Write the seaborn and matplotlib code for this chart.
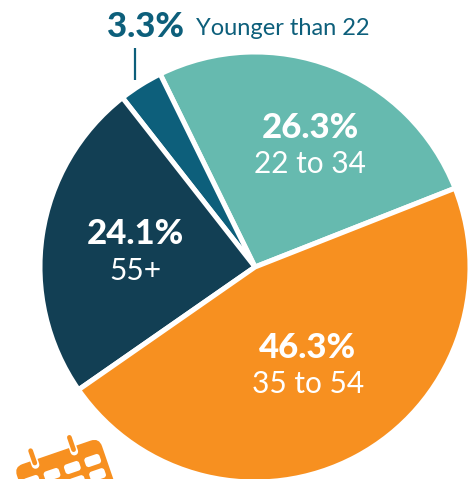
import matplotlib
matplotlib.use("Agg")
import matplotlib.pyplot as plt
from matplotlib.patches import FancyBboxPatch
from matplotlib.transforms import Affine2D
import seaborn as sns

categories = ["22 to 34", "Younger than 22", "55+", "35 to 54"]
shares = [26.3, 3.3, 24.1, 46.3]
share_labels = ["26.3%", "3.3%", "24.1%", "46.3%"]
colors = ["#66BAAF", "#0D5F7B", "#123F54", "#F79020"]

sns.set_theme(style="white")
plt.rcParams["font.family"] = ["Lato", "DejaVu Sans"]
W, H = 474, 479
fig = plt.figure(figsize=(W / 100, H / 100), dpi=100, facecolor="white")

cx, cy, r = 255, 267, 215
ax = fig.add_axes([(cx - r) / W, 1 - (cy + r) / H, 2 * r / W, 2 * r / H])
ax.pie(shares, colors=sns.color_palette(colors), startangle=21.5, counterclock=True,
       radius=1, wedgeprops=dict(edgecolor="white", linewidth=3.6))
ax.set_xlim(-1, 1)
ax.set_ylim(-1, 1)

ov = fig.add_axes([0, 0, 1, 1], facecolor="none")
ov.set_xlim(0, W)
ov.set_ylim(H, 0)
ov.axis("off")

# value labels inside the wedges
for i, (vx, vy, cy2) in {0: (310, 128, 164), 2: (135, 234, 271), 3: (308, 348, 384)}.items():
    ov.text(vx, vy, share_labels[i], color="white", fontsize=25, fontweight="black",
            ha="center", va="center")
    ov.text(vx, cy2, categories[i], color="white", fontsize=21.5, fontweight="normal",
            ha="center", va="center")

# outside callout
ov.text(107, 27, share_labels[1], color=colors[1], fontsize=25, fontweight="black",
        ha="left", va="center")
ov.text(196, 28, categories[1], color=colors[1], fontsize=17, fontweight="normal",
        ha="left", va="center")
ov.plot([135.5, 135.5], [48, 80], color=colors[1], lw=1.6, solid_capstyle="butt")

# calendar icon, clipped by the bottom of the picture
orange = colors[3]
rot = Affine2D().rotate_deg(-19).translate(14, 467) + ov.transData
ov.add_patch(FancyBboxPatch((0, 0), 90, 70, boxstyle="round,pad=0,rounding_size=9",
                            fc=orange, ec="none", transform=rot))
for row_y in [19.5, 34.5]:
    for rx in [12, 33.5, 55, 76.5]:
        ov.add_patch(FancyBboxPatch((rx - 8, row_y - 5), 16, 10,
                                    boxstyle="round,pad=0,rounding_size=3",
                                    fc="white", ec="none", transform=rot))
for px in [21, 62]:
    ov.plot([px, px], [-8, 5], color="white", lw=5.6, solid_capstyle="round", transform=rot)
    ov.plot([px, px], [-10, 3], color=orange, lw=3.4, solid_capstyle="round", transform=rot)

fig.savefig("out.png", dpi=100)
